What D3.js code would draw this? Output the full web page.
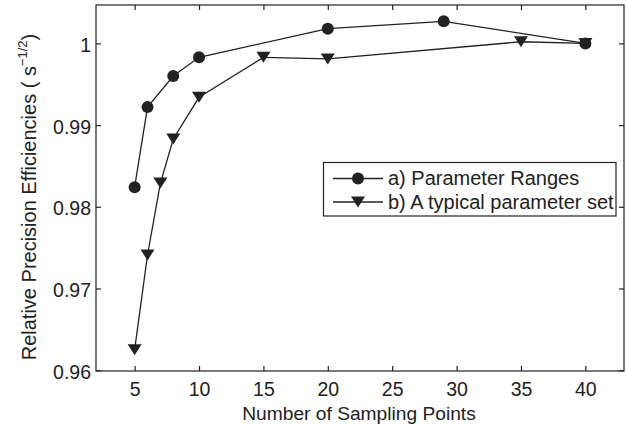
<!DOCTYPE html>
<html><head><meta charset="utf-8">
<script src="https://cdn.jsdelivr.net/npm/d3@7"></script>
<style>body{margin:0;background:#fff}svg{display:block}text{font-family:"Liberation Sans",Arial,sans-serif;fill:#222}</style>
</head><body>
<svg id="c" width="626" height="424"></svg>
<script>
const xTicks = [5,10,15,20,25,30,35,40];
const yTicks = [0.96,0.97,0.98,0.99,1];
const yTickLabels = ["0.96","0.97","0.98","0.99","1"];
const xA = [5,6,8,10,20,29,40];
const yA = [0.9824,0.9922,0.9960,0.9983,1.0018,1.0027,1.0000];
const xB = [5,6,7,8,10,15,20,35,40];
const yB = [0.9625,0.9741,0.9829,0.9883,0.9934,0.9983,0.9981,1.0002,1.0000];
const legendLabels = ["a) Parameter Ranges","b) A typical parameter set"];

const svg = d3.select("#c");
const L=96,R=624,T=5,B=371;
const x = d3.scaleLinear().domain([2,43]).range([L,R]);
const y = d3.scaleLinear().domain([0.9599,1.0047]).range([B,T]);
const ink="#222";
const FS=19.5;

// box
svg.append("rect").attr("x",L).attr("y",T).attr("width",R-L).attr("height",B-T)
  .attr("fill","none").attr("stroke",ink).attr("stroke-width",1.2);

// axes
const gx = svg.append("g").attr("transform",`translate(0,${B})`)
  .call(d3.axisBottom(x).tickValues(xTicks).tickSize(-5).tickFormat(d3.format("d")));
gx.selectAll("text").attr("y",25).attr("dy",null);
const gxt = svg.append("g").attr("transform",`translate(0,${T})`)
  .call(d3.axisTop(x).tickValues(xTicks).tickSize(-5).tickFormat(""));
const gy = svg.append("g").attr("transform",`translate(${L},0)`)
  .call(d3.axisLeft(y).tickValues(yTicks).tickSize(-5).tickPadding(5).tickFormat((d,i)=>yTickLabels[i]));
gy.selectAll("text").attr("dy","0.42em");
const gyr = svg.append("g").attr("transform",`translate(${R},0)`)
  .call(d3.axisRight(y).tickValues(yTicks).tickSize(-5).tickFormat(""));
[gx,gxt,gy,gyr].forEach(g=>{
  g.select(".domain").remove();
  g.selectAll("line").attr("stroke",ink).attr("stroke-width",1.2);
  g.selectAll("text").attr("font-size",FS).attr("fill",ink).style("font-family",'"Liberation Sans",Arial,sans-serif');
});

// axis labels
svg.append("text").attr("x",359).attr("y",420).attr("text-anchor","middle")
  .attr("font-size",19.2).text("Number of Sampling Points");
const yl = svg.append("text").attr("transform",`translate(36,197) rotate(-90)`)
  .attr("text-anchor","middle").attr("font-size",20);
yl.append("tspan").text("Relative Precision Efficiencies ( s");
yl.append("tspan").attr("font-size",13).attr("dy",-9).text("\u22121/2");
yl.append("tspan").attr("dy",9).text(")");

// lines
const line = d3.line().x(d=>x(d[0])).y(d=>y(d[1]));
const dA = xA.map((v,i)=>[v,yA[i]]);
const dB = xB.map((v,i)=>[v,yB[i]]);
svg.append("path").datum(dA).attr("d",line).attr("fill","none").attr("stroke",ink).attr("stroke-width",1.3);
svg.append("path").datum(dB).attr("d",line).attr("fill","none").attr("stroke",ink).attr("stroke-width",1.3);

const tri = "M-7,-5.5L7,-5.5L0,5.5Z";
svg.selectAll(".ca").data(dA).join("circle").attr("cx",d=>x(d[0])).attr("cy",d=>y(d[1])).attr("r",6).attr("fill",ink);
svg.selectAll(".tb").data(dB).join("path").attr("d",tri)
  .attr("transform",d=>`translate(${x(d[0])},${y(d[1])})`).attr("fill",ink);

// legend
const lg = svg.append("g");
lg.append("rect").attr("x",323.5).attr("y",162.5).attr("width",292.5).attr("height",53.5)
  .attr("fill","#fff").attr("stroke",ink).attr("stroke-width",1.2);
const rows=[178.5,202];
legendLabels.forEach((t,i)=>{
  lg.append("line").attr("x1",333).attr("x2",383).attr("y1",rows[i]).attr("y2",rows[i]).attr("stroke",ink).attr("stroke-width",1.3);
  if(i===0) lg.append("circle").attr("cx",358).attr("cy",rows[i]).attr("r",6).attr("fill",ink);
  else lg.append("path").attr("d",tri).attr("transform",`translate(358,${rows[i]})`).attr("fill",ink);
  lg.append("text").attr("x",388).attr("y",rows[i]+6.7).attr("font-size",20).text(t);
});
</script>
</body></html>
